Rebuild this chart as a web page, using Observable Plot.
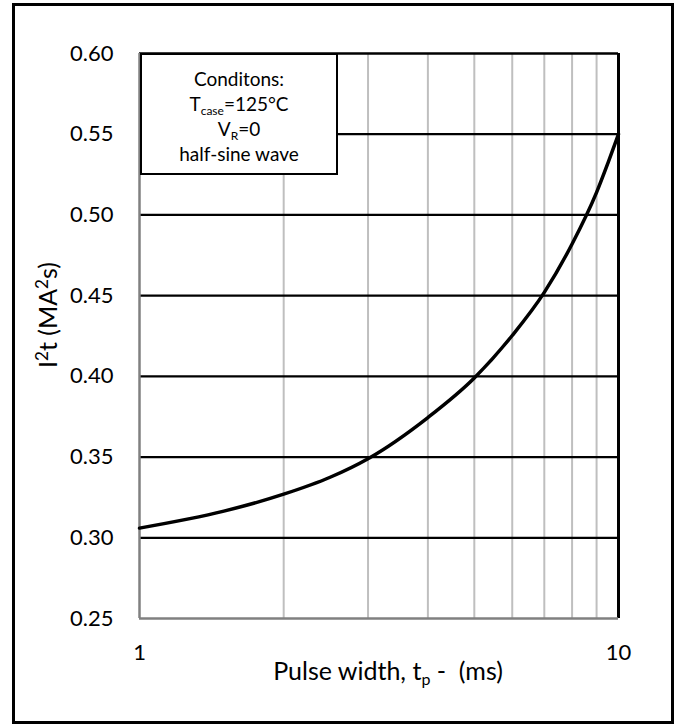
<!DOCTYPE html>
<html>
<head>
<meta charset="utf-8">
<script src="https://cdn.jsdelivr.net/npm/d3@7"></script>
<script src="https://cdn.jsdelivr.net/npm/@observablehq/plot@0.6"></script>
<style>
  body { margin: 0; background: #fff; }
  #wrap { position: relative; width: 677px; height: 725px; font-family: Lato, "Open Sans", sans-serif; color: #000; }
  #border { position: absolute; left: 12px; top: 3px; width: 656px; height: 715px; border: 3px solid #000; pointer-events: none; }
  #chart { position: absolute; left: 0; top: 0; }
  #legend { position: absolute; left: 140px; top: 53px; width: 194px; height: 107px; border: 2px solid #000; background: #fff;
            text-align: center; font-size: 19px; line-height: 25px; padding-top: 11px; box-sizing: content-box; }
  #legend div { height: 25px; }
  #legend sub { font-size: 12px; vertical-align: -4px; line-height: 0; }
  #xlabel { position: absolute; left: 138px; width: 500px; top: 655px; text-align: center; font-size: 25px; line-height: 30px; }
  #xlabel sub { font-size: 16px; vertical-align: -5px; line-height: 0; }
  #ylabel { position: absolute; left: 47px; top: 315px; transform: translate(-50%, -50%) rotate(-90deg); white-space: nowrap; font-size: 25px; line-height: 30px; }
  #ylabel sup { font-size: 17px; vertical-align: 9px; line-height: 0; }
</style>
</head>
<body>
<div id="wrap">
  <div id="chart"></div>
  <div id="legend">
    <div>Conditons:</div>
    <div>T<sub>case</sub>=125°C</div>
    <div>V<sub>R</sub>=0</div>
    <div>half-sine wave</div>
  </div>
  <div id="xlabel">Pulse width, t<sub>p</sub> -&nbsp; (ms)</div>
  <div id="ylabel">I<sup>2</sup>t (MA<sup>2</sup>s)</div>
  <div id="border"></div>
</div>
<script>
// Pulse width tp (ms) and I²t (MA²s)
const tp  = [1, 1.5, 2, 2.5, 3, 4, 5, 6, 7, 8, 9, 9.5, 10];
const i2t = [0.306, 0.3165, 0.327, 0.3375, 0.349, 0.3745, 0.399, 0.4253, 0.452, 0.482, 0.514, 0.532, 0.55];

const xTicks = [1, 10];
const xMinorGrid = [2, 3, 4, 5, 6, 7, 8, 9];
const yTicks = [0.25, 0.30, 0.35, 0.40, 0.45, 0.50, 0.55, 0.60];
const yGrid = [0.30, 0.35, 0.40, 0.45, 0.50, 0.55];

const data = tp.map((t, i) => ({tp: t, i2t: i2t[i]}));

const chart = Plot.plot({
  width: 677,
  height: 725,
  marginLeft: 139,
  marginRight: 59,
  marginTop: 53,
  marginBottom: 107,
  style: { fontFamily: "Lato, 'Open Sans', sans-serif", fontSize: "22px", color: "#000", background: "transparent", overflow: "visible" },
  x: { type: "log", domain: [1, 10], ticks: xTicks, tickFormat: d => String(d), tickSize: 0, tickPadding: 26, label: null },
  y: { domain: [0.25, 0.60], ticks: yTicks, tickFormat: d => d.toFixed(2), tickSize: 0, tickPadding: 26, label: null },
  marks: [
    Plot.ruleX(xMinorGrid, { stroke: "#bfbfbf", strokeWidth: 2 }),
    Plot.ruleY(yGrid, { stroke: "#000", strokeWidth: 2.3 }),
    Plot.ruleX([xTicks[1]], { stroke: "#000", strokeWidth: 3 }),
    Plot.ruleY([yTicks[yTicks.length - 1]], { stroke: "#000", strokeWidth: 2.5 }),
    Plot.ruleX([xTicks[0]], { stroke: "#808080", strokeWidth: 2.5 }),
    Plot.ruleY([yTicks[0]], { stroke: "#808080", strokeWidth: 2.5 }),
    Plot.line(data, { x: "tp", y: "i2t", curve: "monotone-x", stroke: "#000", strokeWidth: 3.5 })
  ]
});
document.getElementById("chart").appendChild(chart);
</script>
</body>
</html>
